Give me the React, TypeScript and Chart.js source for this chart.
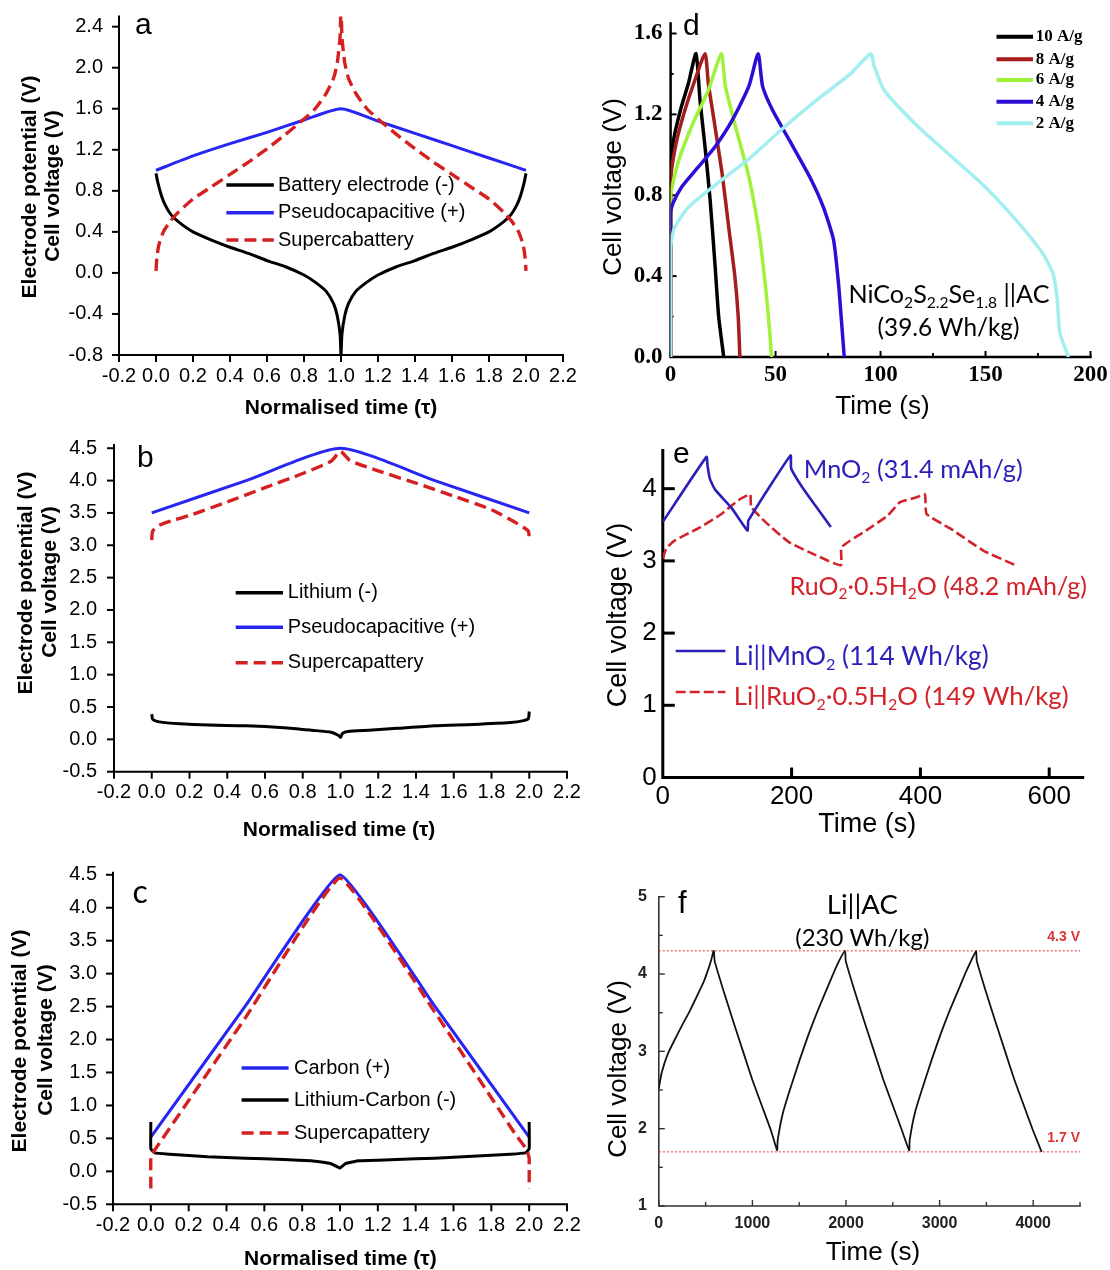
import React, { useEffect, useRef } from "react";
import { Chart, registerables } from "chart.js";

Chart.register(...registerables);

type Pt = [number, number];

const SANS = '"Liberation Sans", Arial, sans-serif';
const SERIF = '"Liberation Serif", "Times New Roman", serif';
const LATO = 'Lato, "Noto Sans", sans-serif';

const BLUE = "#2626f2";
const RED = "#d42020";

// ===================== Panel a =====================
const tauTicks = [-0.2, 0, 0.2, 0.4, 0.6, 0.8, 1.0, 1.2, 1.4, 1.6, 1.8, 2.0, 2.2];
const aTicksY = [-0.8, -0.4, 0, 0.4, 0.8, 1.2, 1.6, 2.0, 2.4];
const aBattery: Pt[] = [
  [0, 0.97], [0.01, 0.88], [0.03, 0.75], [0.05, 0.66], [0.08, 0.57], [0.12, 0.5], [0.2, 0.4],
  [0.3, 0.32], [0.4, 0.25], [0.5, 0.19], [0.6, 0.12], [0.7, 0.06], [0.8, -0.02], [0.86, -0.09],
  [0.92, -0.18], [0.96, -0.3], [0.98, -0.42], [0.995, -0.6], [1.0, -0.8],
  [1.005, -0.6], [1.02, -0.42], [1.04, -0.3], [1.08, -0.18], [1.14, -0.09], [1.2, -0.02],
  [1.3, 0.06], [1.4, 0.12], [1.5, 0.19], [1.6, 0.25], [1.7, 0.32], [1.8, 0.4], [1.88, 0.5],
  [1.92, 0.57], [1.95, 0.66], [1.97, 0.75], [1.99, 0.88], [2.0, 0.97],
];
const aPseudo: Pt[] = [
  [0, 1.0], [0.2, 1.14], [0.4, 1.26], [0.6, 1.37], [0.8, 1.49], [1.0, 1.6],
  [1.2, 1.48], [1.4, 1.36], [1.6, 1.24], [1.8, 1.12], [2.0, 1.0],
];
const aSuper: Pt[] = [
  [0, 0.02], [0.005, 0.15], [0.015, 0.27], [0.04, 0.4], [0.08, 0.51], [0.12, 0.59], [0.2, 0.72],
  [0.3, 0.84], [0.4, 0.96], [0.5, 1.08], [0.6, 1.21], [0.7, 1.35], [0.8, 1.5], [0.86, 1.6],
  [0.92, 1.75], [0.96, 1.9], [0.98, 2.05], [0.995, 2.3], [1.0, 2.6],
  [1.005, 2.3], [1.02, 2.05], [1.04, 1.9], [1.08, 1.75], [1.14, 1.6], [1.2, 1.5], [1.3, 1.35],
  [1.4, 1.21], [1.5, 1.08], [1.6, 0.96], [1.7, 0.84], [1.8, 0.72], [1.88, 0.59], [1.92, 0.51],
  [1.96, 0.4], [1.985, 0.27], [1.995, 0.15], [2.0, 0.02],
];
const aLegend = ["Battery electrode (-)", "Pseudocapacitive (+)", "Supercabattery"];

// ===================== Panel b =====================
const bcTicksY = [-0.5, 0, 0.5, 1.0, 1.5, 2.0, 2.5, 3.0, 3.5, 4.0, 4.5];
const bPseudo: Pt[] = [[0, 3.5], [0.5, 4.0], [1.0, 4.5], [1.5, 4.0], [2.0, 3.5]];
const bSuper: Pt[] = [
  [0, 3.08], [0.005, 3.22], [0.04, 3.31], [0.12, 3.39], [0.2, 3.46], [0.4, 3.67], [0.6, 3.89],
  [0.8, 4.11], [0.95, 4.3], [1.0, 4.45], [1.05, 4.31], [1.2, 4.15], [1.4, 3.96], [1.6, 3.76],
  [1.8, 3.55], [1.94, 3.33], [1.995, 3.22], [2.0, 3.06],
];
const bLithium: Pt[] = [
  [0, 0.39], [0.005, 0.31], [0.04, 0.27], [0.15, 0.24], [0.3, 0.22], [0.5, 0.21], [0.7, 0.18],
  [0.85, 0.14], [0.95, 0.11], [0.99, 0.06], [1.0, 0.03], [1.01, 0.09], [1.04, 0.12], [1.15, 0.14],
  [1.3, 0.17], [1.5, 0.21], [1.7, 0.23], [1.9, 0.26], [1.97, 0.29], [1.995, 0.32], [2.0, 0.43],
];
const bLegend = ["Lithium (-)", "Pseudocapacitive (+)", "Supercapattery"];

// ===================== Panel c =====================
const cCarbon: Pt[] = [[0, 0.52], [0.5, 2.51], [1.0, 4.5], [1.5, 2.51], [2.0, 0.52]];
const cSuper: Pt[] = [
  [0, -0.26], [0, 0.22], [0.015, 0.3], [0.5, 2.33], [1.0, 4.45], [1.5, 2.42], [1.93, 0.55],
  [1.97, 0.4], [1.99, 0.3], [2.0, 0.2], [2.0, -0.26],
];
const cLiC: Pt[] = [
  [0, 0.75], [0, 0.34], [0.02, 0.28], [0.1, 0.26], [0.3, 0.22], [0.5, 0.2], [0.7, 0.18],
  [0.85, 0.16], [0.95, 0.12], [1.0, 0.05], [1.03, 0.12], [1.1, 0.16], [1.3, 0.18], [1.5, 0.2],
  [1.7, 0.23], [1.9, 0.26], [1.98, 0.28], [2.0, 0.34], [2.0, 0.75],
];
const cLegend = ["Carbon (+)", "Lithium-Carbon (-)", "Supercapattery"];

// ===================== Panel d =====================
const dTicksX = [0, 50, 100, 150, 200];
const dMinorX = [25, 75, 125, 175];
const dTicksY = [0, 0.4, 0.8, 1.2, 1.6];
const dMinorY = [0.2, 0.6, 1.0, 1.4];
const dRates = ["10 A/g", "8 A/g", "6 A/g", "4 A/g", "2 A/g"];
const dColors = ["#000000", "#a51d1d", "#9ef23a", "#2c0fd6", "#a3efef"];
const d10: Pt[] = [
  [0, 0], [0, 0.97], [1.9, 1.1], [5.2, 1.24], [8.4, 1.35], [12.1, 1.5], [14, 1.27], [16.4, 1.04],
  [18.8, 0.78], [21.2, 0.45], [22.9, 0.2], [25.3, 0],
];
const d8: Pt[] = [
  [0, 0], [0, 0.87], [2.7, 1.06], [6.8, 1.22], [11.6, 1.37], [16.4, 1.5], [18, 1.35], [20.4, 1.19],
  [24.5, 0.91], [27.7, 0.64], [30.6, 0.4], [32.2, 0.2], [33, 0],
];
const d6: Pt[] = [
  [0, 0], [0, 0.79], [3.5, 0.96], [10, 1.14], [18, 1.32], [24.1, 1.5], [26.1, 1.34], [30.9, 1.14],
  [37.3, 0.89], [42.2, 0.61], [45.4, 0.33], [47, 0.15], [48.1, 0],
];
const d4: Pt[] = [
  [0, 0], [0, 0.71], [1.1, 0.76], [5.2, 0.84], [13.2, 0.94], [21.2, 1.04], [29.3, 1.17],
  [37.3, 1.34], [41.7, 1.5], [43.8, 1.34], [48.6, 1.22], [56.7, 1.07], [66.3, 0.89],
  [72.8, 0.74], [77.6, 0.58], [80, 0.36], [81.6, 0.15], [82.7, 0],
];
const d2: Pt[] = [
  [0, 0], [0, 0.54], [1.9, 0.64], [8.4, 0.74], [21.2, 0.85], [37.3, 0.98], [53.4, 1.13],
  [69.5, 1.27], [85.6, 1.4], [95.3, 1.5], [96.9, 1.44], [101.7, 1.32], [117.8, 1.14],
  [133.9, 0.99], [150, 0.84], [166, 0.66], [177.4, 0.51], [182.2, 0.41], [184.2, 0.28],
  [185.4, 0.12], [189.5, 0],
];

// ===================== Panel e =====================
const eTicksX = [0, 200, 400, 600];
const eTicksY = [0, 1, 2, 3, 4];
const eMnO2: Pt[] = [
  [0, 3.54], [67.8, 4.44], [69.4, 4.32], [73, 4.14], [80.9, 3.99], [107, 3.73], [131.5, 3.42],
  [133, 3.56], [198.3, 4.46], [199.3, 4.28], [216.5, 4.02], [237.4, 3.76], [260.9, 3.47],
];
const eRuO2: Pt[] = [
  [0, 3.03], [5.2, 3.17], [18.3, 3.28], [54.8, 3.45], [91.3, 3.65], [117.4, 3.84], [135.7, 3.92],
  [137.2, 3.75], [159.1, 3.54], [195.7, 3.26], [237.4, 3.08], [276.5, 2.94], [277.6, 3.19],
  [315.6, 3.42], [349.6, 3.63], [367.8, 3.81], [393.9, 3.88], [407, 3.92], [409.6, 3.65],
  [446.1, 3.45], [498.3, 3.14], [547.8, 2.94],
];

// ===================== Panel f =====================
const fTicksX = [0, 1000, 2000, 3000, 4000];
const fMinorX = [500, 1500, 2500, 3500, 4500];
const fTicksY = [1, 2, 3, 4, 5];
const fMinorY = [1.5, 2.5, 3.5, 4.5];
const fLevels = [4.3, 1.7];
const fLevelLabels = ["4.3 V", "1.7 V"];
const fLiAC: Pt[] = [
  [0, 2.52], [30, 2.72], [97, 2.97], [170, 3.15], [242, 3.32], [330, 3.52], [422, 3.75],
  [480, 3.9], [531, 4.07], [560, 4.18], [585, 4.3], [590, 4.28], [598, 4.16], [700, 3.75],
  [800, 3.37], [900, 3.0], [1000, 2.63], [1100, 2.3], [1200, 1.97], [1264, 1.72],
  [1270, 1.85], [1325, 2.2], [1400, 2.5], [1505, 2.89], [1600, 3.22], [1686, 3.49], [1800, 3.82],
  [1866, 4.01], [1930, 4.18], [1990, 4.3], [1997, 4.17], [2100, 3.75], [2200, 3.37], [2300, 3.0],
  [2400, 2.63], [2500, 2.3], [2600, 1.97], [2675, 1.72],
  [2680, 1.85], [2735, 2.2], [2810, 2.5], [2915, 2.89], [3010, 3.22], [3095, 3.49], [3210, 3.82],
  [3275, 4.01], [3340, 4.18], [3390, 4.3], [3397, 4.17], [3500, 3.75], [3600, 3.37], [3700, 3.0],
  [3800, 2.63], [3900, 2.3], [4000, 1.97], [4090, 1.7],
];

// ===================== helpers =====================
type Seg = { t: string; sub?: boolean };

function txt(ctx: any, s: string, x: number, y: number, font: string, color: string,
  align: string = "left", baseline: string = "middle") {
  ctx.save();
  ctx.font = font;
  ctx.fillStyle = color;
  ctx.textAlign = align;
  ctx.textBaseline = baseline;
  ctx.fillText(s, x, y);
  ctx.restore();
}

function rot(ctx: any, s: string, cx: number, cy: number, font: string, color: string = "#000") {
  ctx.save();
  ctx.translate(cx, cy);
  ctx.rotate(-Math.PI / 2);
  ctx.font = font;
  ctx.fillStyle = color;
  ctx.textAlign = "center";
  ctx.textBaseline = "middle";
  ctx.fillText(s, 0, 0);
  ctx.restore();
}

function rich(ctx: any, segs: Seg[], x: number, y: number,
  o: { size: number; family: string; color: string; align?: string; fitW?: number; weight?: string }) {
  const w8 = o.weight || "normal";
  ctx.save();
  const measure = (sz: number) => {
    let acc = 0;
    for (const s of segs) {
      ctx.font = `${w8} ${s.sub ? sz * 0.62 : sz}px ${o.family}`;
      acc += ctx.measureText(s.t).width;
    }
    return acc;
  };
  let sz = o.size;
  if (o.fitW) sz = (sz * o.fitW) / measure(sz);
  const tw = measure(sz);
  let cx = o.align === "center" ? x - tw / 2 : o.align === "right" ? x - tw : x;
  ctx.fillStyle = o.color;
  ctx.textBaseline = "middle";
  ctx.textAlign = "left";
  for (const s of segs) {
    const fs = s.sub ? sz * 0.62 : sz;
    ctx.font = `${w8} ${fs}px ${o.family}`;
    ctx.fillText(s.t, cx, s.sub ? y + sz * 0.3 : y);
    cx += ctx.measureText(s.t).width;
  }
  ctx.restore();
}

function seg(ctx: any, x1: number, y1: number, x2: number, y2: number, color: string, width: number, dash: number[] = []) {
  ctx.save();
  ctx.strokeStyle = color;
  ctx.lineWidth = width;
  ctx.setLineDash(dash);
  ctx.beginPath();
  ctx.moveTo(x1, y1);
  ctx.lineTo(x2, y2);
  ctx.stroke();
  ctx.restore();
}

const f1 = (v: number) => v.toFixed(1);
const f0 = (v: number) => String(Math.round(v));

interface AxisSpec {
  min: number; max: number; ticks: number[]; marks?: number[]; minor?: number[];
  fmt: (v: number) => string; font: any; color: string; pad: number;
  dir: "in" | "out"; len: number; minorLen?: number;
}
interface SeriesSpec { data: Pt[]; color: string; width: number; dash?: number[] }
interface PanelSpec {
  rect: { x: number; y: number; w: number; h: number };
  area: { l: number; t: number; r: number; b: number };
  x: AxisSpec; y: AxisSpec;
  axisWidth: number; axisColor: string; tickWidth: number; tension: number;
  series: SeriesSpec[];
  under?: (ctx: any, X: (v: number) => number, Y: (v: number) => number) => void;
  draw: (ctx: any, X: (v: number) => number, Y: (v: number) => number) => void;
}

const YW = 70;
const XH = 40;

function buildConfig(s: PanelSpec): any {
  const pad = {
    left: s.area.l - s.rect.x - YW,
    top: s.area.t - s.rect.y,
    right: s.rect.x + s.rect.w - s.area.r,
    bottom: s.rect.y + s.rect.h - s.area.b - XH,
  };
  const axisOpts = (a: AxisSpec, isX: boolean) => ({
    type: "linear",
    min: a.min,
    max: a.max,
    afterBuildTicks: (sc: any) => {
      sc.ticks = a.ticks.map((v) => ({ value: v }));
    },
    afterFit: (sc: any) => {
      if (isX) sc.height = XH;
      else sc.width = YW;
    },
    grid: { display: false, drawTicks: false },
    border: { display: false },
    ticks: {
      autoSkip: false, maxRotation: 0, minRotation: 0, padding: a.pad, color: a.color,
      font: a.font, callback: (v: any) => a.fmt(Number(v)),
    },
  });
  const mappers = (chart: any) => {
    const xs = chart.scales.x, ys = chart.scales.y;
    return {
      X: (v: number) => xs.getPixelForValue(v) + s.rect.x,
      Y: (v: number) => ys.getPixelForValue(v) + s.rect.y,
    };
  };
  const deco = {
    id: "deco",
    beforeDatasetsDraw(chart: any) {
      const { ctx, chartArea: ca, scales } = chart;
      const xs = scales.x, ys = scales.y;
      ctx.save();
      ctx.strokeStyle = s.axisColor;
      ctx.lineWidth = s.tickWidth;
      ctx.lineCap = "butt";
      const xm = s.x.marks || s.x.ticks;
      const drawX = (vals: number[], len: number) => {
        for (const v of vals) {
          const px = xs.getPixelForValue(v);
          ctx.beginPath();
          ctx.moveTo(px, ca.bottom);
          ctx.lineTo(px, ca.bottom + (s.x.dir === "out" ? len : -len));
          ctx.stroke();
        }
      };
      const drawY = (vals: number[], len: number) => {
        for (const v of vals) {
          const py = ys.getPixelForValue(v);
          ctx.beginPath();
          ctx.moveTo(ca.left, py);
          ctx.lineTo(ca.left + (s.y.dir === "out" ? -len : len), py);
          ctx.stroke();
        }
      };
      drawX(xm, s.x.len);
      if (s.x.minor) drawX(s.x.minor, s.x.minorLen || s.x.len / 2);
      drawY(s.y.marks || s.y.ticks, s.y.len);
      if (s.y.minor) drawY(s.y.minor, s.y.minorLen || s.y.len / 2);
      ctx.lineWidth = s.axisWidth;
      ctx.lineCap = "square";
      ctx.beginPath();
      ctx.moveTo(ca.left, ca.top);
      ctx.lineTo(ca.left, ca.bottom);
      ctx.lineTo(ca.right, ca.bottom);
      ctx.stroke();
      ctx.restore();
      if (s.under) {
        const { X, Y } = mappers(chart);
        ctx.save();
        ctx.translate(-s.rect.x, -s.rect.y);
        s.under(ctx, X, Y);
        ctx.restore();
      }
    },
    afterDraw(chart: any) {
      const { X, Y } = mappers(chart);
      const ctx = chart.ctx;
      ctx.save();
      ctx.translate(-s.rect.x, -s.rect.y);
      s.draw(ctx, X, Y);
      ctx.restore();
    },
  };
  return {
    type: "line",
    data: {
      datasets: s.series.map((se) => ({
        data: se.data.map(([x, y]) => ({ x, y })),
        borderColor: se.color,
        backgroundColor: se.color,
        borderWidth: se.width,
        borderDash: se.dash || [],
        pointRadius: 0,
        pointHoverRadius: 0,
        fill: false,
        tension: s.tension,
        borderCapStyle: "butt",
        borderJoinStyle: "round",
      })),
    },
    options: {
      responsive: false,
      maintainAspectRatio: false,
      animation: false,
      events: [],
      layout: { padding: pad },
      plugins: { legend: { display: false }, tooltip: { enabled: false }, title: { display: false } },
      scales: { x: axisOpts(s.x, true), y: axisOpts(s.y, false) },
    },
    plugins: [deco],
  };
}

// ===================== panel specs =====================
const tickFontABC = { family: SANS, size: 20 };
const titleFontABC = `bold 21px ${SANS}`;
const legendFontABC = `20px ${SANS}`;

const panelA: PanelSpec = {
  rect: { x: 0, y: -20, w: 600, h: 445 },
  area: { l: 119, t: 16.4, r: 563, b: 355 },
  x: { min: -0.2, max: 2.2, ticks: tauTicks, fmt: f1, font: tickFontABC, color: "#000", pad: 9, dir: "out", len: 7 },
  y: { min: -0.8, max: 2.5, ticks: aTicksY, fmt: f1, font: tickFontABC, color: "#000", pad: 16, dir: "out", len: 7 },
  axisWidth: 2, axisColor: "#000", tickWidth: 2, tension: 0.2,
  series: [
    { data: aSuper, color: RED, width: 3.4, dash: [12, 6] },
    { data: aPseudo, color: BLUE, width: 3 },
    { data: aBattery, color: "#000", width: 3 },
  ],
  draw: (ctx) => {
    rot(ctx, "Electrode potential (V)", 30.3, 187, titleFontABC);
    rot(ctx, "Cell voltage (V)", 53.6, 186, titleFontABC);
    txt(ctx, "Normalised time (τ)", 341, 408, titleFontABC, "#000", "center");
    txt(ctx, "a", 135, 33.5, `30px ${SANS}`, "#000", "left", "alphabetic");
    const rows = [185, 212.7, 240];
    const styles: [string, number[]][] = [["#000", []], [BLUE, []], [RED, [12, 6]]];
    rows.forEach((ry, i) => {
      seg(ctx, 226.4, ry, 273.8, ry, styles[i][0], 3.4, styles[i][1]);
      txt(ctx, aLegend[i], 278, ry, legendFontABC, "#000");
    });
  },
};

const panelB: PanelSpec = {
  rect: { x: 0, y: 410, w: 600, h: 440 },
  area: { l: 114, t: 445, r: 567, b: 771.7 },
  x: { min: -0.2, max: 2.2, ticks: tauTicks, fmt: f1, font: tickFontABC, color: "#000", pad: 9, dir: "out", len: 7 },
  y: { min: -0.5, max: 4.55, ticks: bcTicksY, fmt: f1, font: tickFontABC, color: "#000", pad: 17, dir: "out", len: 7 },
  axisWidth: 2, axisColor: "#000", tickWidth: 2, tension: 0.2,
  series: [
    { data: bSuper, color: RED, width: 3.4, dash: [12, 6] },
    { data: bPseudo, color: BLUE, width: 3 },
    { data: bLithium, color: "#000", width: 3 },
  ],
  draw: (ctx) => {
    rot(ctx, "Electrode potential (V)", 26.6, 583, titleFontABC);
    rot(ctx, "Cell voltage (V)", 50, 582, titleFontABC);
    txt(ctx, "Normalised time (τ)", 339, 830.7, titleFontABC, "#000", "center");
    txt(ctx, "b", 137, 466.5, `30px ${SANS}`, "#000", "left", "alphabetic");
    const rows = [592.7, 627.3, 662.7];
    const styles: [string, number[]][] = [["#000", []], [BLUE, []], [RED, [12, 6]]];
    rows.forEach((ry, i) => {
      seg(ctx, 235.7, ry, 283, ry, styles[i][0], 3.4, styles[i][1]);
      txt(ctx, bLegend[i], 287.8, ry, legendFontABC, "#000");
    });
  },
};

const panelC: PanelSpec = {
  rect: { x: 0, y: 830, w: 600, h: 440 },
  area: { l: 113, t: 872.8, r: 567, b: 1204.3 },
  x: { min: -0.2, max: 2.2, ticks: tauTicks, fmt: f1, font: tickFontABC, color: "#000", pad: 9, dir: "out", len: 7 },
  y: { min: -0.5, max: 4.53, ticks: bcTicksY, fmt: f1, font: tickFontABC, color: "#000", pad: 16, dir: "out", len: 7 },
  axisWidth: 2, axisColor: "#000", tickWidth: 2, tension: 0.1,
  series: [
    { data: cSuper, color: RED, width: 3.4, dash: [12, 6] },
    { data: cLiC, color: "#000", width: 3 },
    { data: cCarbon, color: BLUE, width: 3 },
  ],
  draw: (ctx) => {
    rot(ctx, "Electrode potential (V)", 20.3, 1041, titleFontABC);
    rot(ctx, "Cell voltage (V)", 46.2, 1040, titleFontABC);
    txt(ctx, "Normalised time (τ)", 340.4, 1259.3, titleFontABC, "#000", "center");
    txt(ctx, "c", 132.4, 903, `32px ${LATO}`, "#000", "left", "alphabetic");
    const rows = [1068, 1100, 1133];
    const styles: [string, number[]][] = [[BLUE, []], ["#000", []], [RED, [12, 6]]];
    rows.forEach((ry, i) => {
      seg(ctx, 241.6, ry, 288.6, ry, styles[i][0], 3.4, styles[i][1]);
      txt(ctx, cLegend[i], 294, ry, legendFontABC, "#000");
    });
  },
};

const panelD: PanelSpec = {
  rect: { x: 580, y: -10, w: 550, h: 435 },
  area: { l: 670.6, t: 23.4, r: 1090.5, b: 357 },
  x: { min: 0, max: 200, ticks: dTicksX, minor: dMinorX, fmt: f0, font: { family: SERIF, size: 23, weight: "bold" }, color: "#000", pad: 4, dir: "in", len: 6, minorLen: 4 },
  y: { min: 0, max: 1.65, ticks: dTicksY, minor: dMinorY, fmt: f1, font: { family: SERIF, size: 23, weight: "bold" }, color: "#000", pad: 8, dir: "in", len: 6, minorLen: 3 },
  axisWidth: 2.5, axisColor: "#000", tickWidth: 2, tension: 0.2,
  series: [
    { data: d2, color: dColors[4], width: 3.5 },
    { data: d4, color: dColors[3], width: 3.5 },
    { data: d6, color: dColors[2], width: 3.5 },
    { data: d8, color: dColors[1], width: 3.5 },
    { data: d10, color: dColors[0], width: 3.5 },
  ],
  draw: (ctx) => {
    rot(ctx, "Cell voltage (V)", 613.8, 187, `26px ${SANS}`);
    txt(ctx, "Time (s)", 882.5, 407, `26px ${SANS}`, "#000", "center");
    txt(ctx, "d", 683, 35, `30px ${SANS}`, "#000", "left", "alphabetic");
    const rows = [36.7, 59.3, 80, 101.7, 123.3];
    rows.forEach((ry, i) => {
      seg(ctx, 996.5, ry, 1033, ry, dColors[i], 4);
      txt(ctx, dRates[i], 1035.7, ry, `bold 17px ${SERIF}`, "#000");
    });
    rich(ctx, [{ t: "NiCo" }, { t: "2", sub: true }, { t: "S" }, { t: "2.2", sub: true }, { t: "Se" }, { t: "1.8", sub: true }, { t: " ||AC" }],
      949, 295, { size: 24, family: LATO, color: "#000", align: "center", fitW: 201 });
    rich(ctx, [{ t: "(39.6 Wh/kg)" }], 948.5, 328, { size: 24, family: LATO, color: "#000", align: "center", fitW: 142 });
  },
};

const E_BLUE = "#2a1fb8";
const E_RED = "#d2232a";

const panelE: PanelSpec = {
  rect: { x: 580, y: 425, w: 550, h: 425 },
  area: { l: 662.8, t: 450.4, r: 1082.7, b: 777.5 },
  x: { min: 0, max: 652, ticks: eTicksX, marks: [200, 400, 600], fmt: f0, font: { family: SANS, size: 26 }, color: "#000", pad: 4, dir: "in", len: 10 },
  y: { min: 0, max: 4.53, ticks: eTicksY, marks: [1, 2, 3, 4], fmt: f0, font: { family: SANS, size: 26 }, color: "#000", pad: 6, dir: "in", len: 12 },
  axisWidth: 3, axisColor: "#000", tickWidth: 3, tension: 0.15,
  series: [
    { data: eMnO2, color: E_BLUE, width: 2.6 },
    { data: eRuO2, color: E_RED, width: 2.6, dash: [10, 4] },
  ],
  draw: (ctx) => {
    rot(ctx, "Cell voltage (V)", 618.9, 615, `27px ${SANS}`);
    txt(ctx, "Time (s)", 867.3, 825, `27px ${SANS}`, "#000", "center");
    txt(ctx, "e", 673, 463, `30px ${SANS}`, "#000", "left", "alphabetic");
    rich(ctx, [{ t: "MnO" }, { t: "2", sub: true }, { t: " (31.4 mAh/g)" }], 803.8, 470,
      { size: 26, family: LATO, color: E_BLUE, fitW: 219 });
    rich(ctx, [{ t: "RuO" }, { t: "2", sub: true }, { t: "·0.5H" }, { t: "2", sub: true }, { t: "O (48.2 mAh/g)" }], 789.6, 586.7,
      { size: 26, family: LATO, color: E_RED, fitW: 297.5 });
    seg(ctx, 675.7, 651, 725.4, 651, E_BLUE, 2.6);
    rich(ctx, [{ t: "Li||MnO" }, { t: "2", sub: true }, { t: " (114 Wh/kg)" }], 733.8, 656.7,
      { size: 26, family: LATO, color: E_BLUE, fitW: 255 });
    seg(ctx, 675.7, 692, 725.4, 692, E_RED, 2.6, [10, 4]);
    rich(ctx, [{ t: "Li||RuO" }, { t: "2", sub: true }, { t: "·0.5H" }, { t: "2", sub: true }, { t: "O (149 Wh/kg)" }], 733.8, 696.7,
      { size: 26, family: LATO, color: E_RED, fitW: 335 });
  },
};

const panelF: PanelSpec = {
  rect: { x: 580, y: 850, w: 550, h: 420 },
  area: { l: 658.8, t: 896.7, r: 1080, b: 1206 },
  x: { min: 0, max: 4500, ticks: fTicksX, minor: fMinorX, fmt: f0, font: { family: SANS, size: 16, weight: "bold" }, color: "#222", pad: 8, dir: "in", len: 6, minorLen: 4 },
  y: { min: 1, max: 5, ticks: fTicksY, minor: fMinorY, fmt: f0, font: { family: SANS, size: 16, weight: "bold" }, color: "#222", pad: 12, dir: "in", len: 6, minorLen: 4 },
  axisWidth: 1.6, axisColor: "#333", tickWidth: 1.4, tension: 0.15,
  series: [{ data: fLiAC, color: "#111", width: 1.8 }],
  under: (ctx, X, Y) => {
    fLevels.forEach((lv) => seg(ctx, X(0), Y(lv), X(4500), Y(lv), "#e04848", 1.1, [2, 2]));
  },
  draw: (ctx, X, Y) => {
    rot(ctx, "Cell voltage (V)", 618.9, 1069, `26px ${SANS}`);
    txt(ctx, "Time (s)", 873, 1253, `26px ${SANS}`, "#000", "center");
    txt(ctx, "f", 678, 913, `31px ${SANS}`, "#000", "left", "alphabetic");
    rich(ctx, [{ t: "Li||AC" }], 862.3, 905, { size: 24, family: LATO, color: "#000", align: "center", fitW: 71 });
    rich(ctx, [{ t: "(230 Wh/kg)" }], 862.3, 938, { size: 24, family: LATO, color: "#000", align: "center", fitW: 134 });
    fLevels.forEach((lv, i) => {
      txt(ctx, fLevelLabels[i], X(4500), Y(lv) - 14, `bold 14px ${SANS}`, "#dd3333", "right");
    });
  },
};

const PANELS = [panelA, panelB, panelC, panelD, panelE, panelF];

function Panel({ spec }: { spec: PanelSpec }) {
  const ref = useRef<HTMLCanvasElement | null>(null);
  useEffect(() => {
    const c = ref.current;
    if (!c) return;
    const chart = new Chart(c, buildConfig(spec));
    return () => chart.destroy();
  }, [spec]);
  return (
    <canvas
      ref={ref}
      width={spec.rect.w}
      height={spec.rect.h}
      style={{ position: "absolute", left: spec.rect.x, top: spec.rect.y, width: spec.rect.w, height: spec.rect.h }}
    />
  );
}

export default function App() {
  return (
    <div style={{ position: "absolute", left: 0, top: 0, width: 1110, height: 1270, background: "#fff", overflow: "hidden" }}>
      {PANELS.map((p, i) => (
        <Panel key={i} spec={p} />
      ))}
    </div>
  );
}
